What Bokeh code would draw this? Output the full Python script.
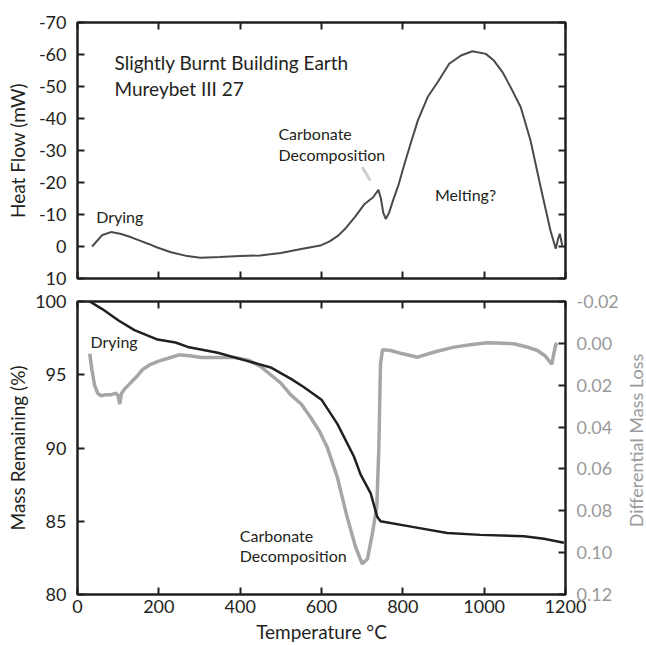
import math
from bokeh.plotting import figure
from bokeh.models import Range1d, LinearAxis, Label, FixedTicker, PrintfTickFormatter
from bokeh.layouts import column, row
from bokeh.embed import file_html
from bokeh.resources import INLINE

# ---------------- data ----------------
x_ticks = [0, 200, 400, 600, 800, 1000, 1200]
hf_ticks = [-70, -60, -50, -40, -30, -20, -10, 0, 10]
mass_ticks = [80, 85, 90, 95, 100]
dml_ticks = [-0.02, 0.0, 0.02, 0.04, 0.06, 0.08, 0.10, 0.12]

temp_hf = [36, 60, 82, 105, 125, 150, 175, 196, 230, 270, 302, 350, 400, 449,
           500, 550, 597, 620, 641, 660, 682, 706, 727, 740, 746, 752, 758,
           766, 776, 790, 804, 820, 837, 861, 886, 914, 943, 971, 1004, 1024,
           1045, 1065, 1090, 1114, 1139, 1163, 1176, 1182, 1186, 1192]
heat_flow = [0.0, -3.5, -4.5, -4.0, -3.2, -2.0, -0.8, 0.3, 1.8, 3.0, 3.5, 3.3,
             3.0, 2.8, 2.0, 0.8, -0.3, -1.6, -3.4, -5.8, -9.2, -13.3, -15.4,
             -17.7, -15.0, -10.5, -8.6, -10.5, -14.4, -19.5, -25.8, -32.5,
             -39.4, -46.7, -51.4, -57.1, -59.7, -61.0, -60.2, -58.1, -54.5,
             -49.8, -43.5, -33.1, -18.5, -5.0, 0.7, -2.5, -4.0, -0.3]

temp_mass = [30, 60, 101, 140, 197, 241, 271, 345, 410, 475, 526, 557, 600,
             639, 680, 696, 721, 737, 745, 827, 909, 991, 1098, 1147, 1196]
mass = [100.0, 99.5, 98.7, 98.05, 97.4, 97.2, 96.9, 96.5, 96.0, 95.5, 94.7,
        94.15, 93.3, 91.65, 89.4, 88.2, 86.9, 85.3, 85.0, 84.6, 84.2, 84.07,
        83.98, 83.8, 83.53]

temp_dml = [30, 35, 42, 50, 58, 70, 82, 94, 100, 104, 108, 115, 130, 145, 160,
            180, 200, 225, 250, 280, 304, 350, 386, 420, 450, 475, 500, 524,
            550, 573, 595, 614, 639, 663, 684, 700, 713, 725, 736, 741, 745,
            750, 770, 800, 836, 880, 926, 970, 1008, 1073, 1110, 1131, 1150,
            1166, 1176, 1180]
dml = [0.005, 0.012, 0.020, 0.024, 0.025, 0.0245, 0.0246, 0.0238, 0.025,
       0.029, 0.024, 0.022, 0.019, 0.016, 0.0125, 0.010, 0.0085, 0.007,
       0.0055, 0.006, 0.0068, 0.0068, 0.0068, 0.008, 0.011, 0.015, 0.019,
       0.0245, 0.029, 0.0353, 0.042, 0.0496, 0.064, 0.083, 0.0974, 0.1053,
       0.103, 0.091, 0.078, 0.05, 0.01, 0.003, 0.0034, 0.005, 0.0066, 0.004,
       0.0018, 0.0005, -0.0003, 0.0002, 0.002, 0.0034, 0.006, 0.010, 0.0005,
       0.0]

# ---------------- style ----------------
FONT = "Lato"
INK = "#231f20"
GREY = "#a6a6a6"
GREY_TXT = "#9a9a9a"
MAIN_W = 626
SIDE_W = 20


def style_axis(ax, ticks, show_labels, color=INK, fmt=None):
    ax.ticker = FixedTicker(ticks=ticks)
    ax.minor_tick_line_color = None
    ax.major_tick_in = 7
    ax.major_tick_out = 0
    ax.major_tick_line_width = 2
    ax.major_tick_line_color = INK
    ax.axis_line_color = None
    if fmt is not None:
        ax.formatter = fmt
    if show_labels:
        ax.major_label_text_font = FONT
        ax.major_label_text_font_size = "18px"
        ax.major_label_text_color = color
        ax.major_label_standoff = 11
        ax.axis_label_text_font = FONT
        ax.axis_label_text_font_size = "19px"
        ax.axis_label_text_font_style = "normal"
        ax.axis_label_text_color = color
    else:
        ax.major_label_overrides = {t: "" for t in ticks}
        ax.major_label_standoff = 0
        ax.axis_label = None


def base_fig(h, y_range, top, bottom):
    p = figure(width=MAIN_W, height=h, x_range=Range1d(0, 1200), y_range=y_range,
               x_axis_type=None, y_axis_type=None,
               output_backend="svg", toolbar_location=None,
               min_border_left=77, min_border_right=MAIN_W - 565,
               min_border_top=top, min_border_bottom=bottom)
    p.outline_line_color = INK
    p.outline_line_width = 2.5
    p.background_fill_color = "white"
    p.border_fill_color = "white"
    return p


def add_text(p, x, y, t, size="16px", color=INK, **kw):
    p.add_layout(Label(x=x, y=y, text=t, text_font=FONT, text_font_size=size,
                       text_color=color, **kw))


# ---------------- top panel: heat flow ----------------
p1 = base_fig(290, Range1d(10, -70), 22, 12)

ax = LinearAxis(axis_label="Heat Flow (mW)")
style_axis(ax, hf_ticks, True, fmt=PrintfTickFormatter(format="%d"))
ax.axis_label_standoff = 7
p1.add_layout(ax, "left")
ax = LinearAxis()
style_axis(ax, hf_ticks, False)
p1.add_layout(ax, "right")
ax = LinearAxis()
style_axis(ax, x_ticks, False)
p1.add_layout(ax, "below")
ax = LinearAxis()
style_axis(ax, x_ticks, False)
p1.add_layout(ax, "above")

p1.line(temp_hf, heat_flow, line_color="#4a4a4a", line_width=2)
p1.line([700, 720], [-24.8, -20.6], line_color="#cfcfcf", line_width=3)

add_text(p1, 91, -53.8, "Slightly Burnt Building Earth", "19px")
add_text(p1, 91, -45.9, "Mureybet III 27", "19px")
add_text(p1, 46, -6.5, "Drying")
add_text(p1, 494, -32.2, "Carbonate")
add_text(p1, 494, -25.9, "Decomposition")
add_text(p1, 879, -13.3, "Melting?")

# ---------------- bottom panel: mass ----------------
p2 = base_fig(355, Range1d(80, 100), 11, 51)
p2.extra_y_ranges = {"dml": Range1d(0.12, -0.02)}

ax = LinearAxis(axis_label="Mass Remaining (%)")
style_axis(ax, mass_ticks, True)
ax.axis_label_standoff = 3
p2.add_layout(ax, "left")
ax = LinearAxis(y_range_name="dml")
style_axis(ax, dml_ticks, True, color=GREY_TXT,
           fmt=PrintfTickFormatter(format="%.2f"))
ax.axis_label = None
p2.add_layout(ax, "right")
ax = LinearAxis(axis_label="Temperature \u00b0C")
style_axis(ax, x_ticks, True)
ax.major_label_standoff = 5
ax.axis_label_standoff = 4
p2.add_layout(ax, "below")
ax = LinearAxis()
style_axis(ax, x_ticks, False)
p2.add_layout(ax, "above")

p2.line(temp_dml, dml, y_range_name="dml", line_color=GREY, line_width=3.5)
p2.line(temp_mass, mass, line_color=INK, line_width=2.5)

add_text(p2, 32, 96.59, "Drying")
add_text(p2, 399, 83.38, "Carbonate")
add_text(p2, 399, 82.01, "Decomposition")

# ---------------- narrow strip holding the right-hand axis title ----------------
side = figure(width=SIDE_W, height=645, x_range=Range1d(0, SIDE_W),
              y_range=Range1d(0, 645), x_axis_type=None, y_axis_type=None,
              output_backend="svg", toolbar_location=None,
              min_border_left=0, min_border_right=0, min_border_top=0,
              min_border_bottom=0)
side.outline_line_color = None
side.border_fill_color = "white"
side.background_fill_color = "white"
add_text(side, 9.5, 645 - 440, "Differential Mass Loss", "18px",
         color=GREY_TXT, angle=math.pi / 2, text_align="center",
         text_baseline="middle")

layout = row(column(p1, p2), side)
open("out.html", "w").write(file_html(layout, INLINE))
